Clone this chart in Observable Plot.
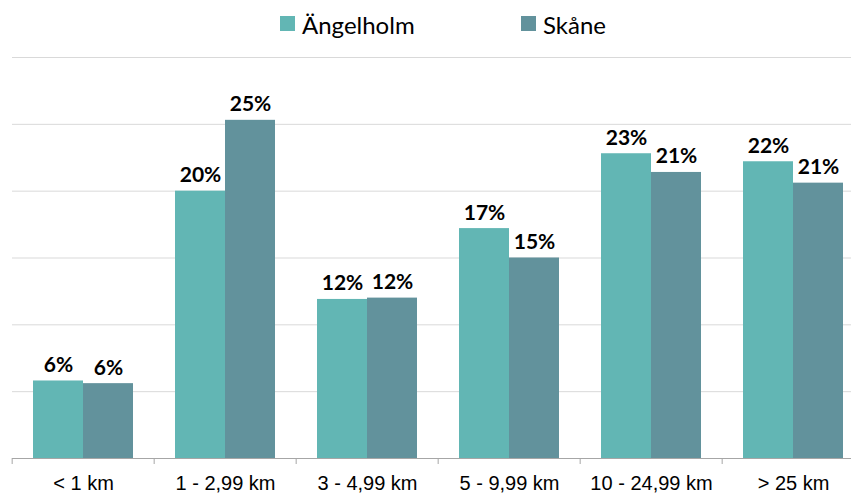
<!DOCTYPE html>
<html><head><meta charset="utf-8">
<script src="https://cdn.jsdelivr.net/npm/d3@7"></script>
<script src="https://cdn.jsdelivr.net/npm/@observablehq/plot@0.6"></script>
<style>
body{margin:0;overflow:hidden;background:#fff;width:851px;height:494px}
#legend{height:48px;position:relative;font-family:Lato, sans-serif;font-size:24px;color:#000;line-height:normal}
.sw{position:absolute;top:16px;width:15px;height:15px}
.lt{position:absolute;top:10px;white-space:nowrap}
#chart svg{display:block;max-width:none !important}
</style></head><body>
<div id="legend"></div>
<div id="chart"></div>
<script>
const categories = ["< 1 km","1 - 2,99 km","3 - 4,99 km","5 - 9,99 km","10 - 24,99 km","> 25 km"];
const series = ["Ängelholm","Skåne"];
const angelholm = [5.8, 20.0, 11.9, 17.2, 22.8, 22.2];
const skane = [5.6, 25.3, 12.0, 15.0, 21.4, 20.6];
const colors = ["#62b6b4","#62929c"];
const yTicks = [5,10,15,20,25,30];

const data = [];
categories.forEach((c,i)=>{
  data.push({cat:c, series:series[0], value:angelholm[i]});
  data.push({cat:c, series:series[1], value:skane[i]});
});

// legend
const legend = document.getElementById("legend");
const legendPos = [280, 521];
series.forEach((s,i)=>{
  const sw = document.createElement("div");
  sw.className="sw"; sw.style.left=legendPos[i]+"px"; sw.style.background=colors[i];
  const t = document.createElement("div");
  t.className="lt"; t.style.left=(legendPos[i]+22)+"px"; t.textContent=s;
  legend.appendChild(sw); legend.appendChild(t);
});

const W = 866;
const step = (W - 10) / categories.length;
const chart = Plot.plot({
  width: W,
  height: 446,
  marginTop: 9,
  marginBottom: 36,
  marginLeft: 10,
  marginRight: 0,
  fx: {domain: categories, padding: 0},
  x: {domain: series, paddingInner: 0, paddingOuter: 0.4, axis: null},
  y: {domain: [0, 30], axis: null},
  color: {domain: series, range: colors},
  style: {background: "#fff", color: "#000", maxWidth: "none", fontSize: "20px", fontFamily: "Liberation Sans, Arial, sans-serif"},
  marks: [
    Plot.ruleY(yTicks, {stroke: "#d9d9d9", strokeWidth: 1}),
    Plot.barY(data, {fx: "cat", x: "series", y: "value", fill: "series"}),
    Plot.ruleY([0], {stroke: "#a6a6a6", strokeWidth: 1}),
    Plot.ruleX(categories, {fx: d => d, x: null, y1: 0, y2: 0, insetBottom: -6, dx: -step/2, stroke: "#a6a6a6"}),
    Plot.text(data, {fx: "cat", x: "series", y: "value", text: d => Math.round(d.value) + "%",
      lineAnchor: "bottom", dy: -9, fontWeight: "bold", fontSize: 21, fontFamily: "Lato, sans-serif", fill: "#000"}),
    Plot.axisFx({anchor: "bottom", tickSize: 0, tickPadding: 17, fontSize: 20, label: null, fill: "#000"})
  ]
});
document.getElementById("chart").appendChild(chart);
</script>
</body></html>
